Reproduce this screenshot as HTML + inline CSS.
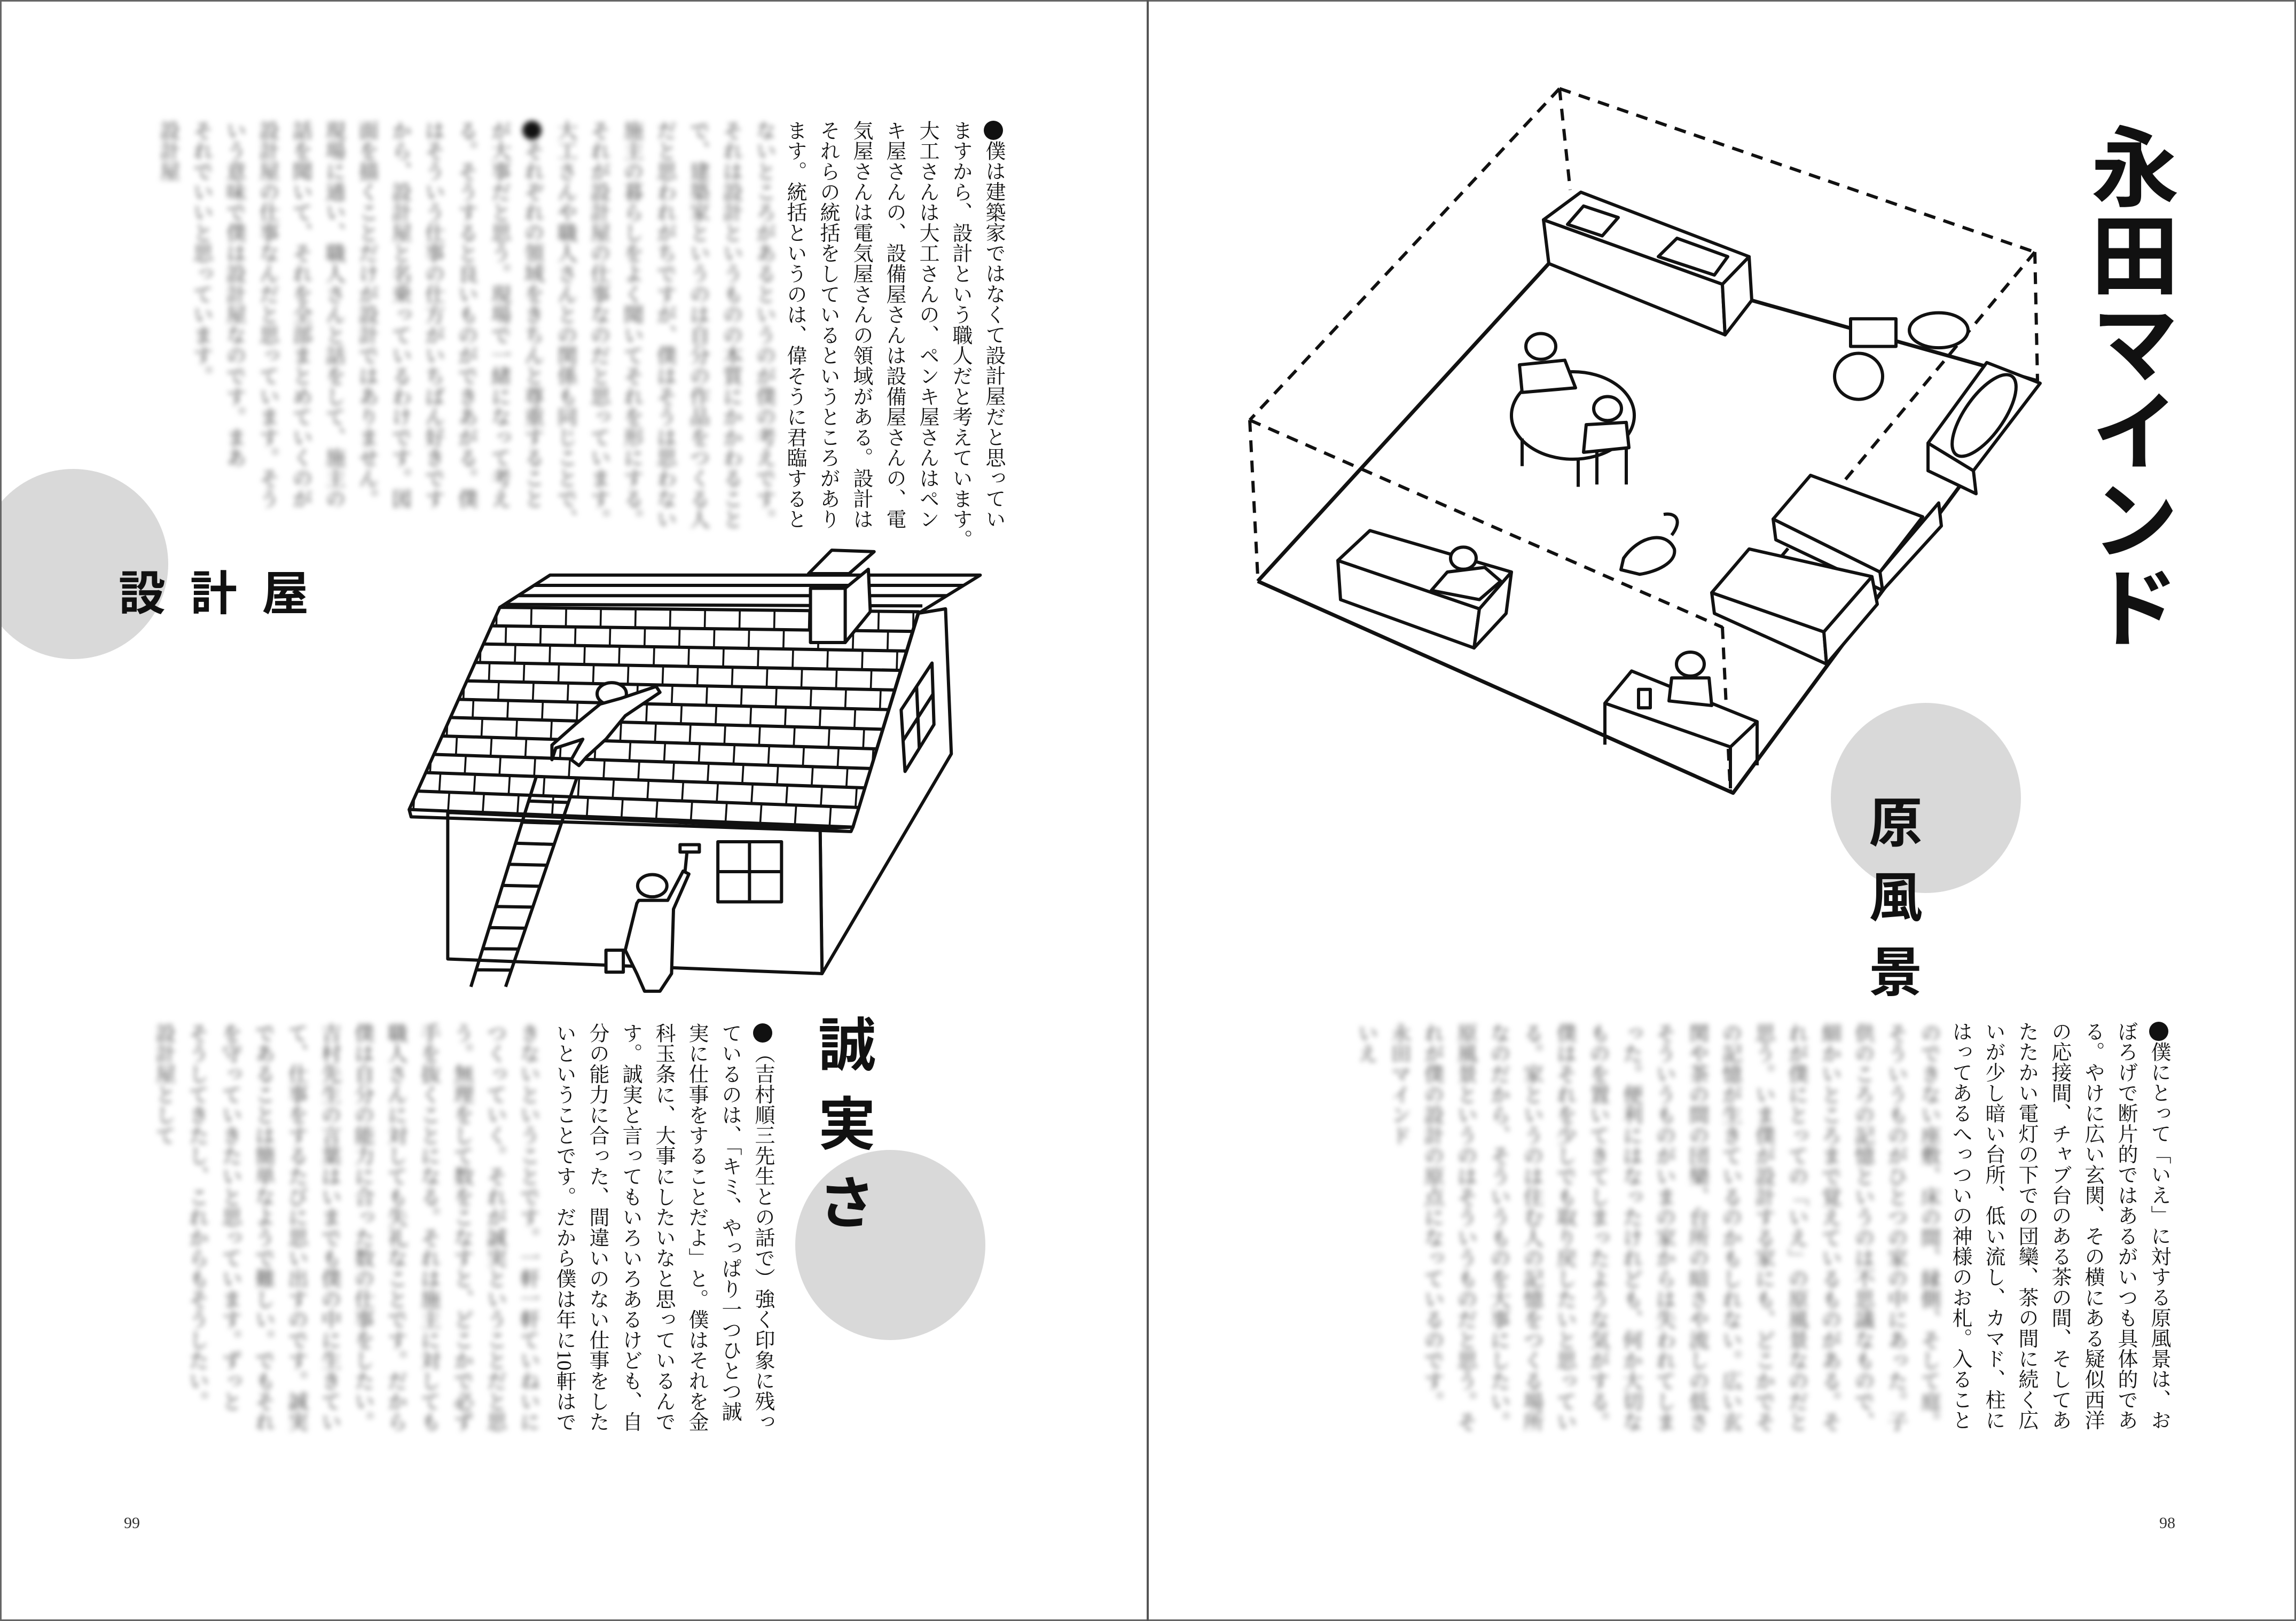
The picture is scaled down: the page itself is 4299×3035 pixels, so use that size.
<!DOCTYPE html>
<html><head><meta charset="utf-8">
<style>
html,body{margin:0;padding:0;background:#fff}
body{width:4299px;height:3035px;position:relative;overflow:hidden}
.v{position:absolute;writing-mode:vertical-rl;font-family:"Liberation Serif","Noto Serif CJK SC",serif;font-size:38px;line-height:62px;letter-spacing:0.3px;color:#111;white-space:nowrap}
.b{color:#444;filter:blur(5px)}
.h{position:absolute;font-family:"Liberation Sans","Noto Sans CJK JP",sans-serif;font-weight:bold;color:#111}
.c{position:absolute;border-radius:50%;background:#d9d9d9}
.pn{position:absolute;font-family:"Liberation Serif",serif;font-size:30px;color:#333}
.dot{display:inline-block;width:36px;height:36px;border-radius:50%;background:#111;margin:1px}
svg{position:absolute;left:0;top:0}
</style></head><body>

<div class="c" style="left:-41px;top:878px;width:356px;height:356px"></div>
<div class="c" style="left:1489px;top:2153px;width:356px;height:356px"></div>
<div class="c" style="left:3428px;top:1316px;width:356px;height:356px"></div>

<svg width="4299" height="3035" viewBox="0 0 4299 3035">
<rect x="1.5" y="1.5" width="4296" height="3032" fill="none" stroke="#666" stroke-width="3"/>
<line x1="2149" y1="0" x2="2149" y2="3035" stroke="#555" stroke-width="4"/>
<defs><clipPath id="rc"><polygon points="285,250 1370,265 1200,1000 50,940"/></clipPath></defs>
<g transform="translate(730,1000) scale(0.7225,0.5486)" fill="#fff" stroke="#111" stroke-width="6" stroke-linejoin="round">
 <g>
 <polygon vector-effect="non-scaling-stroke" points="1370,270 1440,255 1455,750 1120,1500 1115,1005 1200,1000"/>
 <polygon vector-effect="non-scaling-stroke" points="150,950 1115,1005 1120,1500 150,1450"/>
 <polygon vector-effect="non-scaling-stroke" points="285,250 415,140 1530,140 1370,270"/>
 <path vector-effect="non-scaling-stroke" fill="none" d="M374,175 L1487,175 M332,210 L1444,210 M300,240 L1380,245"/>
 <polygon vector-effect="non-scaling-stroke" points="285,250 1370,265 1200,1000 50,940"/>
 <path vector-effect="non-scaling-stroke" fill="none" d="M50,940 L55,965 L1195,1015 L1200,1000"/>
 <path vector-effect="non-scaling-stroke" fill="none" d="M264,313L1355,332M242,375L1339,399M221,438L1324,465M200,501L1308,532M178,564L1293,599M157,626L1277,666M135,689L1262,733M114,752L1246,800M93,814L1231,866M71,877L1215,933"/>
 <g clip-path="url(#rc)" fill="none" stroke="#111" stroke-width="58" stroke-dasharray="5 85">
  <line x1="274" y1="281" x2="1362" y2="298"/>
  <line x1="253" y1="344" x2="1347" y2="365" stroke-dashoffset="45"/>
  <line x1="232" y1="407" x2="1331" y2="432"/>
  <line x1="210" y1="470" x2="1316" y2="499" stroke-dashoffset="45"/>
  <line x1="189" y1="532" x2="1300" y2="566"/>
  <line x1="168" y1="595" x2="1285" y2="632" stroke-dashoffset="45"/>
  <line x1="146" y1="658" x2="1270" y2="699"/>
  <line x1="125" y1="720" x2="1254" y2="766" stroke-dashoffset="45"/>
  <line x1="103" y1="783" x2="1239" y2="833"/>
  <line x1="82" y1="846" x2="1223" y2="900" stroke-dashoffset="45"/>
  <line x1="60" y1="909" x2="1208" y2="966"/>
 </g>
 <polygon vector-effect="non-scaling-stroke" points="1180,185 1240,120 1245,265 1180,370"/>
 <rect vector-effect="non-scaling-stroke" x="1090" y="185" width="90" height="185"/>
 <polygon vector-effect="non-scaling-stroke" points="1085,135 1145,55 1255,60 1190,135"/>
 <rect vector-effect="non-scaling-stroke" x="850" y="1050" width="165" height="205"/>
 <path vector-effect="non-scaling-stroke" d="M932,1050V1255M850,1152H1015"/>
 <polygon vector-effect="non-scaling-stroke" points="1325,600 1405,440 1410,650 1335,810"/>
 <path vector-effect="non-scaling-stroke" d="M1365,520L1372,730M1330,705L1408,545"/>
 <path vector-effect="non-scaling-stroke" fill="none" d="M380,825L210,1545M485,830L300,1545M360,911L463,916M343,983L444,987M326,1055L426,1059M309,1127L407,1130M292,1199L389,1202M275,1271L370,1273M258,1343L352,1345M241,1415L333,1416M224,1487L315,1488"/>
 <circle vector-effect="non-scaling-stroke" cx="575" cy="545" r="38"/>
 <path vector-effect="non-scaling-stroke" d="M545,580 L600,560 L690,520 L700,540 L610,620 L560,700 L510,760 L490,790 L470,770 L500,700 L430,730 L420,770 L420,720 L480,650 Z"/>
 <circle vector-effect="non-scaling-stroke" cx="680" cy="1200" r="38"/>
 <path vector-effect="non-scaling-stroke" d="M645,1250 L720,1250 L760,1150 L775,1160 L735,1280 L730,1500 L700,1560 L660,1560 L640,1500 L610,1420 L640,1260 Z"/>
 <rect vector-effect="non-scaling-stroke" x="752" y="1060" width="50" height="25"/>
 <path vector-effect="non-scaling-stroke" fill="none" d="M770,1085 L765,1150"/>
 <rect vector-effect="non-scaling-stroke" x="560" y="1420" width="45" height="75"/>
 </g>
</g>
<g transform="translate(2300,140) scale(1,0.862)" fill="#fff" stroke="#111" stroke-width="6" stroke-linejoin="round">
 <path vector-effect="non-scaling-stroke" fill="none" stroke-dasharray="22 16" d="M620,30 L1510,385 M620,30 L40,750 M40,750 L925,1200 M1510,385 L925,1200 M620,30 L640,250 M1510,385 L1515,665 M40,750 L55,1090 M925,1200 L940,1560"/>
 <path vector-effect="non-scaling-stroke" fill="none" stroke-width="7" d="M55,1100 L600,410 M55,1100 L945,1560 L1515,665 M980,490 L1515,665"/>
 <polygon vector-effect="non-scaling-stroke" points="590,315 925,455 930,565 600,410"/>
 <polygon vector-effect="non-scaling-stroke" points="925,455 975,395 980,490 930,565"/>
 <polygon vector-effect="non-scaling-stroke" points="590,315 660,255 975,395 925,455"/>
 <polygon vector-effect="non-scaling-stroke" points="635,325 665,285 730,310 700,350"/>
 <polygon vector-effect="non-scaling-stroke" points="805,395 840,355 935,395 910,435"/>
 <rect vector-effect="non-scaling-stroke" x="1165" y="530" width="85" height="60"/>
 <ellipse vector-effect="non-scaling-stroke" cx="1180" cy="655" rx="45" ry="50"/>
 <ellipse vector-effect="non-scaling-stroke" cx="1330" cy="555" rx="55" ry="38"/>
 <polygon vector-effect="non-scaling-stroke" points="1310,800 1395,860 1400,910 1310,860"/>
 <polygon vector-effect="non-scaling-stroke" points="1310,800 1420,625 1520,670 1395,860"/>
 <ellipse vector-effect="non-scaling-stroke" cx="1415" cy="740" rx="38" ry="100" transform="rotate(30 1415 740)"/>
 <ellipse vector-effect="non-scaling-stroke" cx="645" cy="740" rx="115" ry="95"/>
 <path vector-effect="non-scaling-stroke" fill="none" d="M550,790V850M655,835V895M690,820V890M745,810V890"/>
 <circle vector-effect="non-scaling-stroke" cx="585" cy="590" r="28"/>
 <path vector-effect="non-scaling-stroke" d="M550,690 L545,630 L630,620 L650,680 Z"/>
 <circle vector-effect="non-scaling-stroke" cx="710" cy="725" r="26"/>
 <path vector-effect="non-scaling-stroke" d="M665,820 L670,760 L745,755 L750,810 Z"/>
 <polygon vector-effect="non-scaling-stroke" points="205,1055 470,1160 460,1245 210,1140"/>
 <polygon vector-effect="non-scaling-stroke" points="470,1160 530,1080 520,1170 460,1245"/>
 <polygon vector-effect="non-scaling-stroke" points="205,1055 265,990 530,1080 470,1160"/>
 <circle vector-effect="non-scaling-stroke" cx="440" cy="1050" r="24"/>
 <path vector-effect="non-scaling-stroke" d="M380,1120 L410,1080 L480,1070 L510,1100 L470,1140 Z"/>
 <polygon vector-effect="non-scaling-stroke" points="1020,965 1220,1080 1225,1120 1025,1010"/>
 <polygon vector-effect="non-scaling-stroke" points="1220,1080 1330,930 1335,980 1225,1120"/>
 <polygon vector-effect="non-scaling-stroke" points="1020,965 1090,870 1300,960 1220,1080"/>
 <polygon vector-effect="non-scaling-stroke" points="905,1125 1115,1210 1120,1280 910,1170"/>
 <polygon vector-effect="non-scaling-stroke" points="1115,1210 1205,1090 1215,1150 1120,1280"/>
 <polygon vector-effect="non-scaling-stroke" points="905,1125 975,1030 1205,1090 1115,1210"/>
 <path vector-effect="non-scaling-stroke" fill="none" d="M740,1050 C770,1000 820,990 835,1030 C840,1060 800,1080 770,1085 L735,1075 Z M830,1000 C850,970 840,950 815,955"/>
 <polygon vector-effect="non-scaling-stroke" points="705,1365 755,1295 990,1405 940,1460"/>
 <path vector-effect="non-scaling-stroke" fill="none" d="M705,1365V1455M940,1460V1550M990,1405V1500"/>
 <circle vector-effect="non-scaling-stroke" cx="865" cy="1280" r="26"/>
 <path vector-effect="non-scaling-stroke" d="M825,1360 L830,1310 L900,1310 L905,1370 Z"/>
 <rect vector-effect="non-scaling-stroke" x="768" y="1335" width="22" height="40"/>
</g>
</svg>

<div class="h" style="left:3898px;top:228px;writing-mode:vertical-rl;font-size:165px;line-height:170px;letter-spacing:0">永田マインド</div>
<div class="h" style="left:222px;top:1062px;font-size:88px;letter-spacing:46px;line-height:100px">設計屋</div>
<div class="h" style="left:1522px;top:1900px;writing-mode:vertical-rl;font-size:108px;letter-spacing:40px;line-height:110px">誠実さ</div>
<div class="h" style="left:3485px;top:1488px;writing-mode:vertical-rl;font-size:100px;letter-spacing:40px;line-height:110px">原風景</div>

<div class="v" style="right:2408px;top:225px"><span class="dot"></span>僕は建築家ではなくて設計屋だと思ってい<br>ますから、設計という職人だと考えています。<br>大工さんは大工さんの、ペンキ屋さんはペン<br>キ屋さんの、設備屋さんは設備屋さんの、電<br>気屋さんは電気屋さんの領域がある。設計は<br>それらの統括をしているというところがあり<br>ます。統括というのは、偉そうに君臨すると</div>

<div class="v" style="right:2840px;top:1915px"><span class="dot"></span>（吉村順三先生との話で）強く印象に残っ<br>ているのは、「キミ、やっぱり一つひとつ誠<br>実に仕事をすることだよ」と。僕はそれを金<br>科玉条に、大事にしたいなと思っているんで<br>す。誠実と言ってもいろいろあるけども、自<br>分の能力に合った、間違いのない仕事をした<br>いということです。だから僕は年に10軒はで</div>

<div class="v" style="right:226px;top:1912px"><span class="dot"></span>僕にとって「いえ」に対する原風景は、お<br>ぼろげで断片的ではあるがいつも具体的であ<br>る。やけに広い玄関、その横にある疑似西洋<br>の応接間、チャブ台のある茶の間、そしてあ<br>たたかい電灯の下での団欒、茶の間に続く広<br>いが少し暗い台所、低い流し、カマド、柱に<br>はってあるへっついの神様のお札。入ること</div>

<div class="v b" style="right:2838px;top:225px">ないところがあるというのが僕の考えです。<br>それは設計というものの本質にかかわること<br>で、建築家というのは自分の作品をつくる人<br>だと思われがちですが、僕はそうは思わない<br>施主の暮らしをよく聞いてそれを形にする。<br>それが設計屋の仕事なのだと思っています。<br>大工さんや職人さんとの関係も同じことで、<br><span class="dot"></span>それぞれの領域をきちんと尊重すること<br>が大事だと思う。現場で一緒になって考え<br>る。そうすると良いものができあがる。僕<br>はそういう仕事の仕方がいちばん好きです<br>から、設計屋と名乗っているわけです。図<br>面を描くことだけが設計ではありません。<br>現場に通い、職人さんと話をして、施主の<br>話を聞いて、それを全部まとめていくのが<br>設計屋の仕事なんだと思っています。そう<br>いう意味で僕は設計屋なのです。まあ<br>それでいいと思っています。<br>設計屋</div>

<div class="v b" style="right:3280px;top:1915px">きないということです。一軒一軒ていねいに<br>つくっていく。それが誠実ということだと思<br>う。無理をして数をこなすと、どこかで必ず<br>手を抜くことになる。それは施主に対しても<br>職人さんに対しても失礼なことです。だから<br>僕は自分の能力に合った数の仕事をしたい。<br>吉村先生の言葉はいまでも僕の中に生きてい<br>て、仕事をするたびに思い出すのです。誠実<br>であることは簡単なようで難しい。でもそれ<br>を守っていきたいと思っています。ずっと<br>そうしてきたし、これからもそうしたい。<br>設計屋として</div>

<div class="v b" style="right:657px;top:1915px">のできない座敷、床の間、縁側、そして庭。<br>そういうものがひとつの家の中にあった。子<br>供のころの記憶というのは不思議なもので、<br>細かいところまで覚えているものがある。そ<br>れが僕にとっての「いえ」の原風景なのだと<br>思う。いま僕が設計する家にも、どこかでそ<br>の記憶が生きているのかもしれない。広い玄<br>関や茶の間の団欒、台所の暗さや流しの低さ<br>そういうものがいまの家からは失われてしま<br>った。便利にはなったけれども、何か大切な<br>ものを置いてきてしまったような気がする。<br>僕はそれを少しでも取り戻したいと思ってい<br>る。家というのは住む人の記憶をつくる場所<br>なのだから、そういうものを大事にしたい。<br>原風景というのはそういうものだと思う。そ<br>れが僕の設計の原点になっているのです。<br>永田マインド<br>いえ</div>

<div class="pn" style="left:232px;top:2835px">99</div>
<div class="pn" style="left:4043px;top:2835px">98</div>
</body></html>
